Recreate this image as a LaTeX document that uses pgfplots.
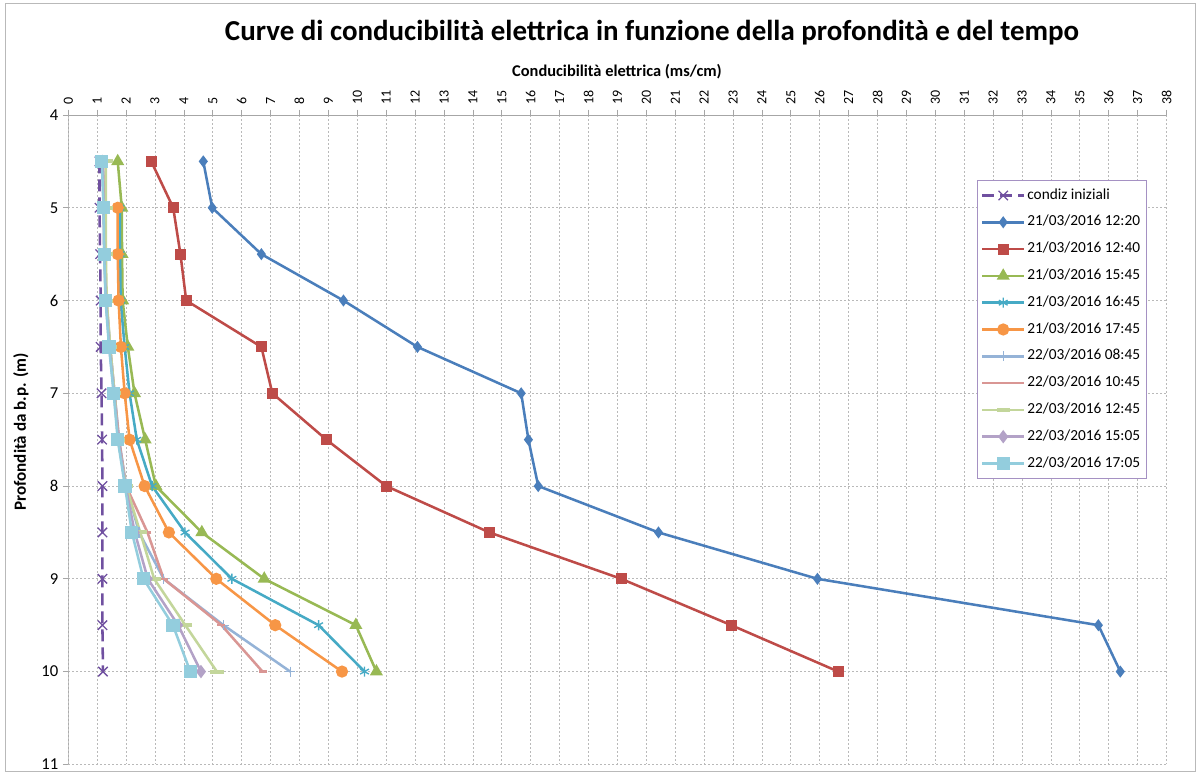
\documentclass[border=0pt]{standalone}
\usepackage{fontspec}
\setmainfont{Carlito}
\usepackage{pgfplots}
\pgfplotsset{compat=1.18}
\definecolor{cpurple}{RGB}{112,80,160}
\definecolor{cblue}{RGB}{74,126,187}
\definecolor{cred}{RGB}{190,75,72}
\definecolor{cgreen}{RGB}{152,185,84}
\definecolor{cteal}{RGB}{70,170,197}
\definecolor{corange}{RGB}{247,150,70}
\definecolor{clblue}{RGB}{149,179,215}
\definecolor{cpink}{RGB}{217,150,148}
\definecolor{clgreen}{RGB}{195,214,155}
\definecolor{clav}{RGB}{179,162,199}
\definecolor{clcyan}{RGB}{147,205,221}
\definecolor{legcol}{RGB}{165,145,195}
\begin{document}
\begin{tikzpicture}
\useasboundingbox (0,0) rectangle (900pt,-579.75pt);
\draw[gray!55, line width=0.75pt] (5*0.75pt,-4*0.75pt) rectangle (1195*0.75pt,-771*0.75pt);
\node[font=\bfseries\fontsize{21.7}{26}\selectfont] at (652*0.75pt,-33*0.75pt) {Curve di conducibilità elettrica in funzione della profondità e del tempo};
\node[font=\bfseries\fontsize{12.3}{14}\selectfont] at (617*0.75pt,-72*0.75pt) {Conducibilità elettrica (ms/cm)};
\node[font=\bfseries\fontsize{12.8}{14}\selectfont, rotate=90] at (21*0.75pt,-432*0.75pt) {Profondità da b.p. (m)};
\begin{axis}[
  at={(68.3*0.75pt,-115*0.75pt)}, anchor=north west,
  width=823.7pt, height=487pt, scale only axis,
  xmin=0, xmax=38, ymin=4, ymax=11, y dir=reverse,
  xtick={0,...,38}, ytick={4,...,11},
  xticklabel pos=right,
  xtick pos=right, ytick pos=left,
  x tick label style={rotate=90, anchor=west, font=\fontsize{10.5}{12}\selectfont},
  y tick label style={font=\fontsize{12.5}{14}\selectfont},
  /pgf/number format/assume math mode=true,
  tick align=outside, major tick length=4pt,
  tick style={gray!70, line width=0.6pt},
  axis line style={draw=none},
  grid=major,
  major grid style={gray!55, line width=0.6pt, dash pattern=on 1.5pt off 1.5pt},
  legend style={at={(axis description cs:0.827,0.9)}, anchor=north west,
    draw=legcol, line width=0.8pt, fill=white,
    font=\fontsize{11.5}{13}\selectfont, inner xsep=3pt, inner ysep=4.5pt,
    row sep=6.6pt, nodes={inner sep=1.5pt, text height=8pt, text depth=2.5pt}},
  legend cell align=left,
  legend image code/.code={\draw[mark repeat=2,mark phase=2,#1] plot coordinates {(0cm,0cm) (0.55cm,0cm) (1.1cm,0cm)};},
  every axis plot/.append style={line width=1.9pt},
]
\addplot[cpurple, dash pattern=on 9pt off 4.5pt, mark=x, mark size=5pt, mark options={solid, line width=1pt}] coordinates {(1.08,4.5)(1.08,5)(1.1,5.5)(1.12,6)(1.12,6.5)(1.15,7)(1.17,7.5)(1.18,8)(1.18,8.5)(1.18,9)(1.18,9.5)(1.2,10)};
\addlegendentry{condiz iniziali}
\addplot[cblue, mark=diamond*, mark size=3pt] coordinates {(4.67,4.5)(4.98,5)(6.68,5.5)(9.52,6)(12.08,6.5)(15.67,7)(15.92,7.5)(16.26,8)(20.42,8.5)(25.92,9)(35.64,9.5)(36.4,10)};
\addlegendentry{21/03/2016 12:20}
\addplot[cred, mark=square*, mark size=3.2pt] coordinates {(2.87,4.5)(3.63,5)(3.88,5.5)(4.08,6)(6.68,6.5)(7.06,7)(8.93,7.5)(11.0,8)(14.57,8.5)(19.13,9)(22.94,9.5)(26.64,10)};
\addlegendentry{21/03/2016 12:40}
\addplot[cgreen, mark=triangle*, mark size=3.8pt] coordinates {(1.71,4.5)(1.85,5)(1.86,5.5)(1.88,6)(2.06,6.5)(2.29,7)(2.66,7.5)(3.03,8)(4.62,8.5)(6.78,9)(9.95,9.5)(10.66,10)};
\addlegendentry{21/03/2016 15:45}
\addplot[cteal, mark=asterisk, mark size=3.8pt, mark options={line width=1pt}] coordinates {(1.78,5)(1.79,5.5)(1.81,6)(1.95,6.5)(2.12,7)(2.37,7.5)(2.9,8)(4.04,8.5)(5.66,9)(8.66,9.5)(10.25,10)};
\addlegendentry{21/03/2016 16:45}
\addplot[corange, mark=*, mark size=3.6pt] coordinates {(1.71,5)(1.71,5.5)(1.74,6)(1.82,6.5)(1.95,7)(2.12,7.5)(2.64,8)(3.48,8.5)(5.12,9)(7.16,9.5)(9.47,10)};
\addlegendentry{21/03/2016 17:45}
\addplot[clblue, mark=+, mark size=3.8pt, mark options={line width=1pt}] coordinates {(1.2,4.5)(1.24,5)(1.27,5.5)(1.32,6)(1.45,6.5)(1.6,7)(1.76,7.5)(2.0,8)(2.45,8.5)(3.3,9)(5.37,9.5)(7.68,10)};
\addlegendentry{22/03/2016 08:45}
\addplot[cpink, mark=-, mark size=3pt] coordinates {(1.2,4.5)(1.23,5)(1.26,5.5)(1.31,6)(1.44,6.5)(1.6,7)(1.75,7.5)(2.0,8)(2.74,8.5)(3.3,9)(5.3,9.5)(6.72,10)};
\addlegendentry{22/03/2016 10:45}
\addplot[clgreen, mark=-, mark size=5pt, mark options={line width=3pt}] coordinates {(1.3,4.5)(1.3,5)(1.3,5.5)(1.33,6)(1.45,6.5)(1.6,7)(1.72,7.5)(2.0,8)(2.49,8.5)(2.97,9)(4.05,9.5)(5.14,10)};
\addlegendentry{22/03/2016 12:45}
\addplot[clav, mark=diamond*, mark size=3.5pt] coordinates {(1.18,4.5)(1.22,5)(1.24,5.5)(1.3,6)(1.42,6.5)(1.58,7)(1.73,7.5)(1.98,8)(2.3,8.5)(2.75,9)(3.8,9.5)(4.59,10)};
\addlegendentry{22/03/2016 15:05}
\addplot[clcyan, mark=square*, mark size=4pt] coordinates {(1.16,4.5)(1.22,5)(1.24,5.5)(1.29,6)(1.41,6.5)(1.57,7)(1.71,7.5)(1.96,8)(2.2,8.5)(2.6,9)(3.62,9.5)(4.22,10)};
\addlegendentry{22/03/2016 17:05}
\draw[gray!70, line width=0.8pt] (axis cs:0,11) -- (axis cs:0,4) -- (axis cs:38,4);
\end{axis}
\end{tikzpicture}
\end{document}
